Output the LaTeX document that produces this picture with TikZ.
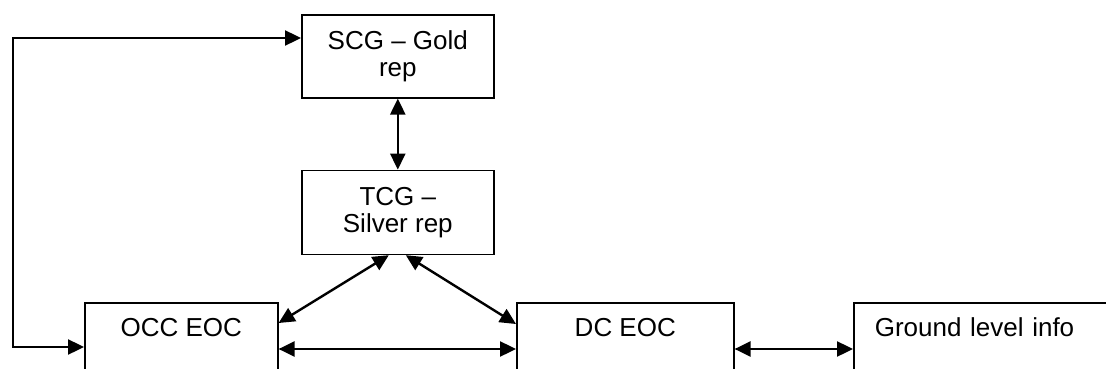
\documentclass[tikz,border=0pt]{standalone}
\usepackage{fontspec}
\setmainfont{Liberation Sans}
\usepackage{tikz}
\usetikzlibrary{
  arrows.meta,
  positioning,
  calc
}
\definecolor{cmdLine}{HTML}{000000}
\newcommand{\cmdfont}{\fontsize{26}{27.5}\selectfont}
\tikzset{
  cmdnode/.style={
    draw=cmdLine, line width=1.6pt, font=\cmdfont, inner sep=0pt
  },
  cmdbox/.style={cmdnode, align=center, minimum width=192pt},
  eocbox/.style={cmdnode, anchor=north west, text height=19pt, text depth=60pt, inner ysep=15pt},
  link/.style={{Triangle[length=16pt,width=15pt]}-{Triangle[length=16pt,width=15pt]}, line width=2.4pt, cmdLine},
}
\begin{document}
\begin{tikzpicture}[x=1pt, y=-1pt]
  \useasboundingbox (0,0) rectangle (1106,369);
  \clip (0,0) rectangle (1106,369);
  \node[cmdbox, minimum height=83pt, anchor=north west] (scg) at (301,14) {SCG – Gold\\rep};
  \node[cmdbox, minimum height=84pt, below=71pt of scg] (tcg) {TCG –\\Silver rep};
  \node[eocbox, minimum width=193pt, align=center] (occ) at (84,302) {OCC EOC};
  \node[eocbox, minimum width=217pt, align=center] (dc) at (516,302) {DC EOC};
  \node[eocbox, text width=262pt, inner xsep=21pt, align=left] (gli) at (853,302) {Ground level info};
  \coordinate (spine) at (13,200);
  \draw[link] (scg.south) -- (tcg.north);
  \draw[link] ([xshift=-9pt]tcg.south) -- ([yshift=-21pt]occ.north east);
  \draw[link] ([xshift=8pt]tcg.south) -- ([yshift=-22pt]dc.north west);
  \draw[link] ([yshift=-47pt]occ.north east) -- ([yshift=-47pt]dc.north west);
  \draw[link] ([yshift=-47pt]dc.north east) -- ([yshift=-47pt]gli.north west);
  \draw[link] ([yshift=-24pt]scg.north west) -| (spine) |- ([yshift=-45pt]occ.north west);
\end{tikzpicture}
\end{document}
